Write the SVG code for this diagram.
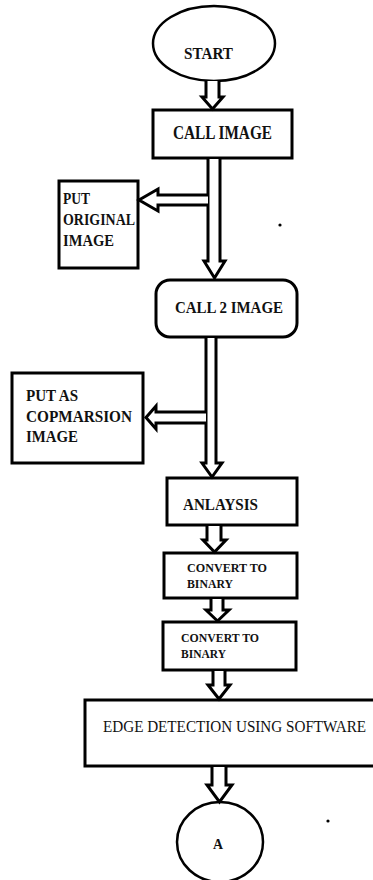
<svg xmlns="http://www.w3.org/2000/svg" width="373" height="880" viewBox="0 0 373 880">
<style>
.box{fill:#fff;stroke:#000;stroke-width:3}
.oval{fill:#fff;stroke:#000;stroke-width:2.5}
.arr{fill:#fff;stroke:#000;stroke-width:3;stroke-linejoin:miter}
.t{font-family:"Liberation Serif","Times New Roman",serif;font-weight:bold;fill:#111}
.n{font-family:"Liberation Serif","Times New Roman",serif;font-weight:normal;fill:#111}
</style>
<rect width="373" height="880" fill="#fff"/>
<g id="start">
<ellipse class="oval" cx="214" cy="43.5" rx="61" ry="37.5"/>
<text class="t" x="184" y="59" font-size="16" textLength="49" lengthAdjust="spacingAndGlyphs">START</text>
</g>
<g id="call_image">
<rect class="box" x="153" y="110" width="139" height="48"/>
<text class="t" x="173" y="139" font-size="18" textLength="99" lengthAdjust="spacingAndGlyphs">CALL IMAGE</text>
</g>
<g id="put_original">
<rect class="box" x="59" y="181" width="79" height="87"/>
<text class="t" x="63" y="204" font-size="17" textLength="27" lengthAdjust="spacingAndGlyphs">PUT</text>
<text class="t" x="63" y="225" font-size="17" textLength="72" lengthAdjust="spacingAndGlyphs">ORIGINAL</text>
<text class="t" x="63" y="246" font-size="17" textLength="51" lengthAdjust="spacingAndGlyphs">IMAGE</text>
</g>
<g id="call_2_image">
<rect class="box" x="156" y="280" width="141" height="57" rx="14" ry="14"/>
<text class="t" x="175" y="313" font-size="17" textLength="108" lengthAdjust="spacingAndGlyphs">CALL 2 IMAGE</text>
</g>
<g id="put_as">
<rect class="box" x="12" y="373" width="131" height="90"/>
<text class="t" x="26" y="401" font-size="16" textLength="52" lengthAdjust="spacingAndGlyphs">PUT AS</text>
<text class="t" x="26" y="422" font-size="16" textLength="106" lengthAdjust="spacingAndGlyphs">COPMARSION</text>
<text class="t" x="26" y="442" font-size="16" textLength="52" lengthAdjust="spacingAndGlyphs">IMAGE</text>
</g>
<g id="analysis">
<rect class="box" x="167" y="478" width="130" height="47"/>
<text class="t" x="183" y="510" font-size="16" textLength="75" lengthAdjust="spacingAndGlyphs">ANLAYSIS</text>
</g>
<g id="convert1">
<rect class="box" x="164" y="553" width="133" height="45"/>
<text class="t" x="187" y="572" font-size="13" textLength="80" lengthAdjust="spacingAndGlyphs">CONVERT TO</text>
<text class="t" x="187" y="588" font-size="13" textLength="46" lengthAdjust="spacingAndGlyphs">BINARY</text>
</g>
<g id="convert2">
<rect class="box" x="163" y="622" width="133" height="48"/>
<text class="t" x="181" y="642" font-size="13" textLength="78" lengthAdjust="spacingAndGlyphs">CONVERT TO</text>
<text class="t" x="181" y="658" font-size="13" textLength="45" lengthAdjust="spacingAndGlyphs">BINARY</text>
</g>
<g id="edge_detection">
<rect class="box" x="85" y="700" width="300" height="66"/>
<text class="n" x="103" y="732" font-size="17" textLength="263" lengthAdjust="spacingAndGlyphs">EDGE DETECTION USING SOFTWARE</text>
</g>
<g id="connector_a">
<ellipse class="oval" cx="220" cy="842" rx="43" ry="40"/>
<text class="t" x="213" y="849" font-size="14" textLength="10" lengthAdjust="spacingAndGlyphs">A</text>
</g>
<g id="connectors">
<path class="arr" d="M206,81 L206,97 L202,97 L212.5,109 L223,97 L219,97 L219,81"/>
<path class="arr" d="M208,159 L208,261 L204,261 L214.5,278 L225,261 L220,261 L220,159"/>
<path class="arr" d="M208,195 L158,195 L158,189 L139,200 L158,211 L158,205 L208,205"/>
<path class="arr" d="M206,338 L206,463 L202,463 L212,477 L222,463 L216,463 L216,338"/>
<path class="arr" d="M206,412 L156,412 L156,406 L146,417.5 L156,429 L156,423 L206,423"/>
<path class="arr" d="M207,526 L207,540 L203,540 L214.5,552 L226,540 L221,540 L221,526"/>
<path class="arr" d="M211,599 L211,610 L206,610 L217.5,621 L229,610 L223,610 L223,599"/>
<path class="arr" d="M213,671 L213,685 L208,685 L219,699 L230,685 L225,685 L225,671"/>
<path class="arr" d="M212,767 L212,785 L207,785 L219.5,802 L232,785 L226,785 L226,767"/>
</g>
<circle cx="280" cy="225" r="1.6" fill="#000"/>
<circle cx="328" cy="821" r="1.6" fill="#000"/>
</svg>
